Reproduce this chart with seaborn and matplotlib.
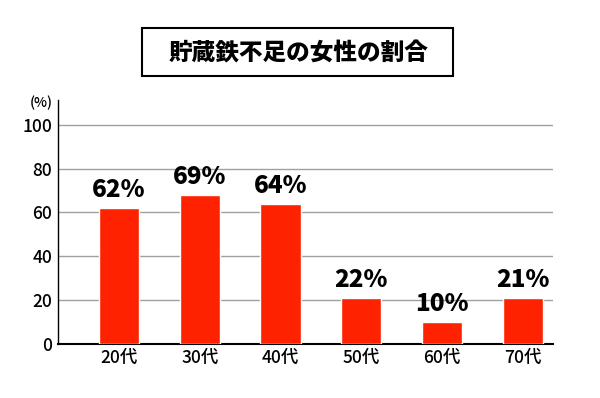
import pandas as pd
import seaborn as sns
import matplotlib.pyplot as plt
from matplotlib.patches import Rectangle

# data
ages = ['20代', '30代', '40代', '50代', '60代', '70代']
heights = [62, 68, 64, 21, 10, 21]
labels = ['62%', '69%', '64%', '22%', '10%', '21%']
yticks = [0, 20, 40, 60, 80, 100]

df = pd.DataFrame({'age': ages, 'value': heights})

sns.set_style('white')
plt.rcParams['font.family'] = ['Noto Sans CJK JP', 'DejaVu Sans']
plt.rcParams['text.color'] = 'black'
plt.rcParams['xtick.color'] = 'black'
plt.rcParams['ytick.color'] = 'black'

fig = plt.figure(figsize=(6, 3.98), dpi=100)
ax = fig.add_axes([0.0967, 0.1369, 0.825, 0.6118])

sns.barplot(data=df, x='age', y='value', color='#FF2200', saturation=1,
            width=0.5, ax=ax, zorder=3)

ax.set_xlim(-0.756, 5.375)
ax.set_ylim(0, 111.4)
ax.set_yticks(yticks)
ax.set_yticklabels([str(t) for t in yticks], fontsize=12.5, fontweight='medium')
ax.set_xticklabels(ages, fontsize=12.5, fontweight='medium')
ax.tick_params(axis='both', length=0)
ax.tick_params(axis='y', pad=4)
ax.tick_params(axis='x', pad=4)
ax.set_xlabel('')
ax.set_ylabel('')

for t in yticks[1:]:
    ax.axhline(t, color='#a0a0a0', lw=1, zorder=1)

for s in ['top', 'right']:
    ax.spines[s].set_visible(False)
ax.spines['left'].set_color('black')
ax.spines['left'].set_linewidth(1)
ax.spines['bottom'].set_color('black')
ax.spines['bottom'].set_linewidth(1.5)

ax.bar_label(ax.containers[0], labels=labels, padding=4,
             fontsize=17.5, fontweight='heavy', color='black')

fig.text(41 / 600, 1 - 103 / 398, '(%)', fontsize=10, fontweight='medium',
         ha='center', va='center')

# title in a box
fig.patches.append(Rectangle((142 / 600, 1 - 76 / 398), 311 / 600, 48 / 398,
                             transform=fig.transFigure, fill=False,
                             edgecolor='black', lw=1.5))
fig.text(299 / 600, 1 - 53 / 398, '貯蔵鉄不足の女性の割合', fontsize=17,
         fontweight='heavy', ha='center', va='center')

fig.savefig('out.png', dpi=100)
